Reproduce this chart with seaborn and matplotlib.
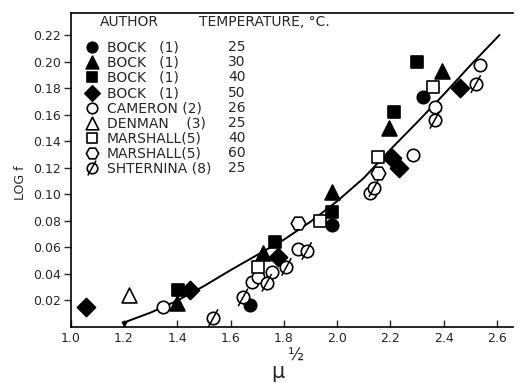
import matplotlib as mpl
import matplotlib.pyplot as plt
from matplotlib.path import Path
import numpy as np
import seaborn as sns

# values: x = mu^(1/2), y = log f
bock25_x = [1.673, 1.98, 2.322]
bock25_y = [0.016, 0.0766, 0.173]

bock30_x = [1.40, 1.722, 1.98, 2.196, 2.393]
bock30_y = [0.018, 0.0555, 0.1015, 0.150, 0.193]

bock40_x = [1.404, 1.767, 1.98, 2.213, 2.30]
bock40_y = [0.0275, 0.064, 0.0865, 0.162, 0.1996]

bock50_x = [1.057, 1.448, 1.78, 2.205, 2.232, 2.461]
bock50_y = [0.0147, 0.0275, 0.0525, 0.127, 0.120, 0.180]

cameron26_x = [1.346, 1.681, 1.704, 1.755, 1.853, 2.123, 2.285, 2.367, 2.536]
cameron26_y = [0.0147, 0.0336, 0.037, 0.041, 0.0585, 0.1007, 0.1295, 0.166, 0.1974]

denman25_x = [1.219]
denman25_y = [0.0238]

marshall40_x = [1.704, 1.935, 2.154, 2.359]
marshall40_y = [0.045, 0.080, 0.128, 0.181]

marshall60_x = [1.853, 2.154]
marshall60_y = [0.078, 0.116]

shternina25_x = [1.535, 1.647, 1.736, 1.81, 1.886, 2.138, 2.367, 2.521]
shternina25_y = [0.0064, 0.022, 0.033, 0.045, 0.057, 0.1045, 0.156, 0.183]

# smooth curve drawn through the data
curve_x = [1.2, 1.3, 1.4, 1.5, 1.6, 1.7, 1.8, 1.9, 2.0, 2.1, 2.2, 2.3, 2.4, 2.5, 2.61]
curve_y = [0.003, 0.0105, 0.0195, 0.0305, 0.0425, 0.054, 0.0655, 0.079, 0.0945,
           0.112, 0.1335, 0.154, 0.175, 0.197, 0.220]

legend_names = ["BOCK   (1)", "BOCK   (1)", "BOCK   (1)", "BOCK   (1)", "CAMERON (2)",
                "DENMAN    (3)", "MARSHALL(5)", "MARSHALL(5)", "SHTERNINA (8)"]
legend_temps = ["25", "30", "40", "50", "26", "25", "40", "60", "25"]

xticks = [1.0, 1.2, 1.4, 1.6, 1.8, 2.0, 2.2, 2.4, 2.6]
yticks = [0.02, 0.04, 0.06, 0.08, 0.10, 0.12, 0.14, 0.16, 0.18, 0.20, 0.22]

slash = Path([(-0.55, -1.0), (0.55, 1.0)], [Path.MOVETO, Path.LINETO])

# marker, filled, size
styles = [
    ('o', True, 80),
    ('^', True, 115),
    ('s', True, 85),
    ('D', True, 85),
    ('o', False, 80),
    ('^', False, 115),
    ('s', False, 85),
    ('H', False, 110),
    ('slashed', False, 80),
]
series = [
    (bock25_x, bock25_y), (bock30_x, bock30_y), (bock40_x, bock40_y),
    (bock50_x, bock50_y), (cameron26_x, cameron26_y), (denman25_x, denman25_y),
    (marshall40_x, marshall40_y), (marshall60_x, marshall60_y),
    (shternina25_x, shternina25_y),
]

sns.set_style("ticks")
plt.rcParams['font.family'] = ['DejaVu Sans']

fig = plt.figure(figsize=(5.18, 3.83), dpi=100)
ax = fig.add_axes([0.1365, 0.1475, 0.8535, 0.8185])

sns.lineplot(x=curve_x, y=curve_y, color='black', linewidth=1.4, ax=ax, zorder=2)
ax.plot(curve_x[0], curve_y[0], marker=(3, 0, 60), color='black', markersize=4)


def draw(ax, x, y, style, scale=1.0, **kw):
    marker, filled, size = style
    size = size * scale
    if marker == 'slashed':
        sns.scatterplot(x=x, y=y, marker='o', s=size, facecolor='white',
                        edgecolor='black', linewidth=1.2, ax=ax, zorder=3, **kw)
        sns.scatterplot(x=x, y=y, marker=slash, s=size * 2.0, facecolor='none',
                        edgecolor='black', linewidth=1.1, ax=ax, zorder=4, **kw)
    else:
        sns.scatterplot(x=x, y=y, marker=marker, s=size,
                        facecolor='black' if filled else 'white',
                        edgecolor='black', linewidth=1.2, ax=ax, zorder=3, **kw)


for (x, y), st in zip(series, styles):
    draw(ax, x, y, st)

ax.set_xlim(1.0, 2.66)
ax.set_ylim(0.0, 0.2366)
ax.set_xticks(xticks)
ax.set_xticklabels(["%.1f" % v for v in xticks])
ax.set_yticks(yticks)
ax.set_yticklabels(["%.2f" % v for v in yticks])
ax.tick_params(axis='x', direction='in', length=5, width=1, labelsize=9, pad=4)
ax.tick_params(axis='y', direction='out', length=5, width=1, labelsize=9, pad=2)
for s in ['left', 'bottom', 'top']:
    ax.spines[s].set_linewidth(1.2)
    ax.spines[s].set_color('black')
ax.spines['right'].set_visible(False)

ax.set_ylabel("LOG f", fontsize=9)
ax.yaxis.set_label_coords(-0.098, 0.46)
ax.set_xlabel("")
fig.text(278 / 518, 1 - 372 / 383, "μ", fontsize=15, ha='center', va='center')
fig.text(296 / 518, 1 - 356 / 383, "½", fontsize=12, ha='center', va='center')

# legend block drawn by hand (two text columns)
tr = ax.transAxes
ax.text(0.066, 0.971, "AUTHOR", transform=tr, fontsize=10, va='center')
ax.text(0.29, 0.971, "TEMPERATURE, °C.", transform=tr, fontsize=10, va='center')
row_y = [0.8916, 0.8437, 0.7959, 0.7448, 0.6970, 0.6491, 0.6013, 0.5534, 0.5056]
for i, st in enumerate(styles):
    draw(ax, [0.048], [row_y[i]], st, scale=0.72, transform=tr, clip_on=False)
    ax.text(0.082, row_y[i], legend_names[i], transform=tr, fontsize=10, va='center')
    ax.text(0.356, row_y[i], legend_temps[i], transform=tr, fontsize=10, va='center')

fig.savefig("out.png", dpi=100)
